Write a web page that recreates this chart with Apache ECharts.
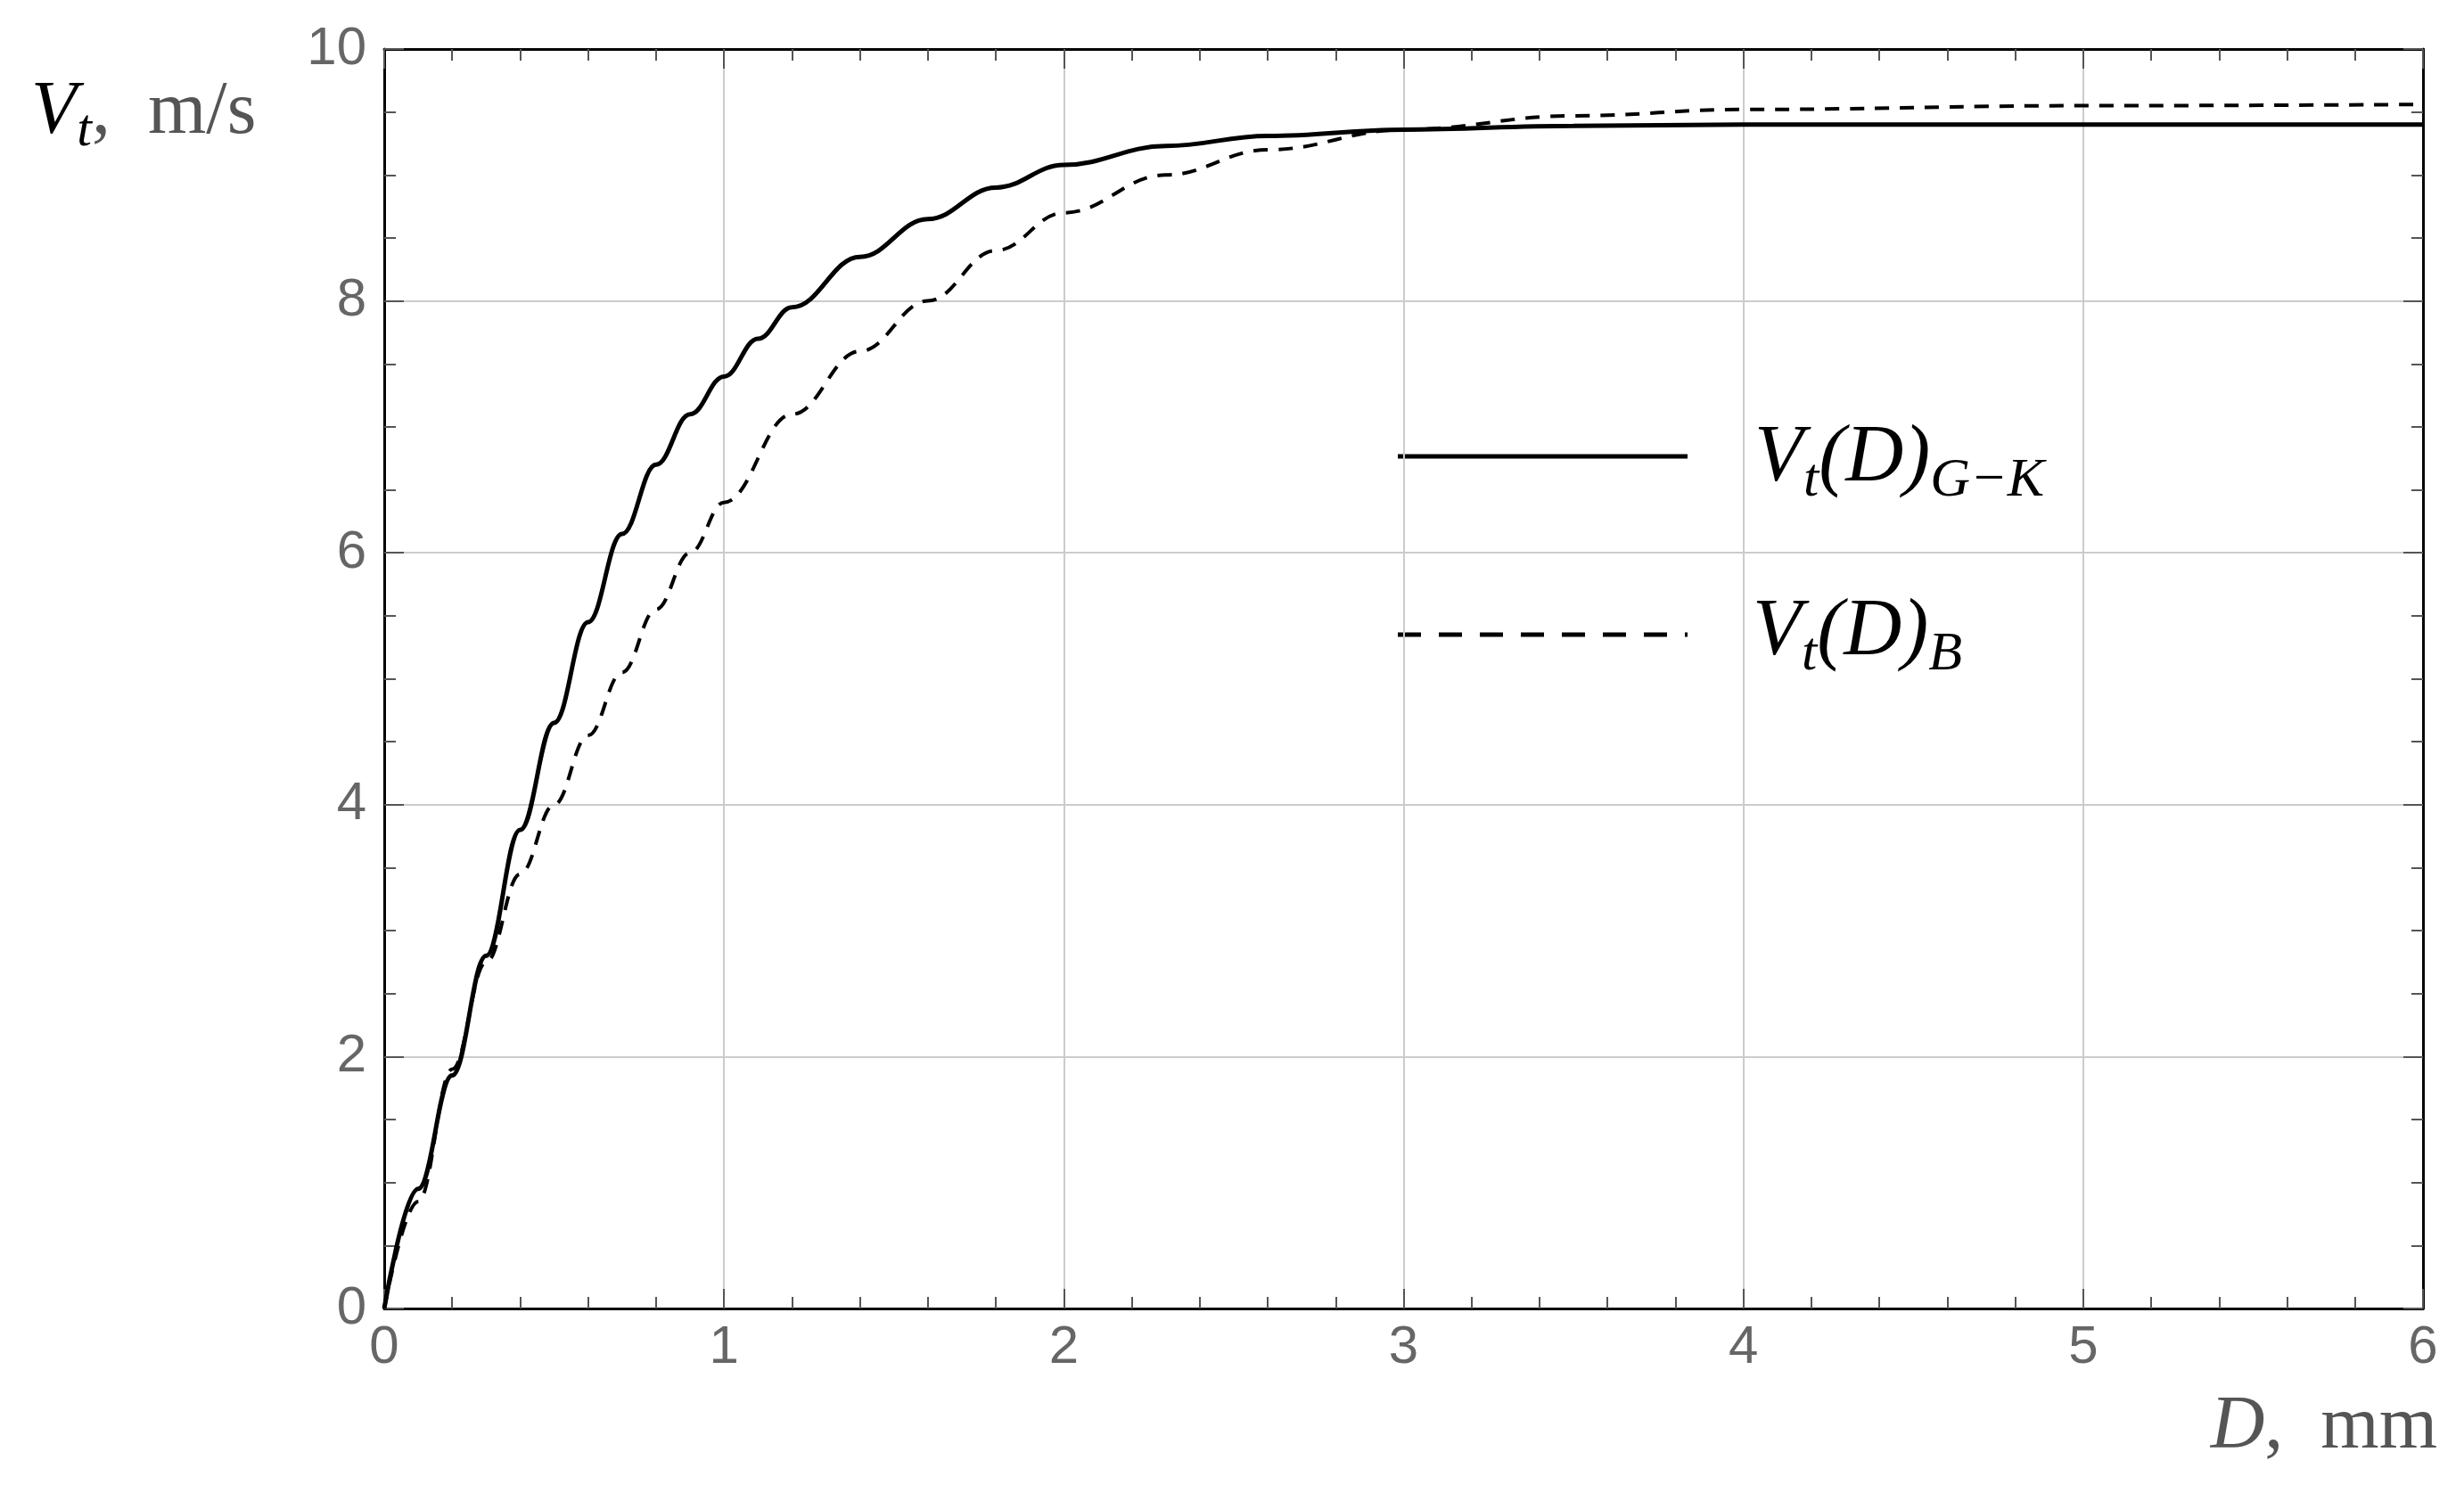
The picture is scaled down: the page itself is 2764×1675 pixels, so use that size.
<!DOCTYPE html>
<html><head><meta charset="utf-8">
<script src="https://cdn.jsdelivr.net/npm/echarts@6/dist/echarts.min.js"></script>
<style>html,body{margin:0;padding:0;background:#fff}#c{width:2764px;height:1675px}</style>
</head><body><div id="c"></div>
<script>
const dGK = [0,0.1,0.2,0.3,0.4,0.5,0.6,0.7,0.8,0.9,1.0,1.1,1.2,1.4,1.6,1.8,2.0,2.3,2.6,3.0,3.5,4.0,5.0,6.0];
const vGK = [0,0.95,1.85,2.8,3.8,4.65,5.45,6.15,6.7,7.1,7.4,7.7,7.95,8.35,8.65,8.9,9.08,9.23,9.31,9.36,9.39,9.4,9.4,9.4];
const dB = [0,0.1,0.2,0.3,0.4,0.5,0.6,0.7,0.8,0.9,1.0,1.2,1.4,1.6,1.8,2.0,2.3,2.6,3.0,3.5,4.0,5.0,6.0];
const vB = [0,0.85,1.9,2.75,3.45,4.0,4.55,5.05,5.55,6.0,6.4,7.1,7.6,8.0,8.4,8.7,9.0,9.2,9.36,9.47,9.52,9.55,9.56];
const xTicks = [0,1,2,3,4,5,6];
const yTicks = [0,2,4,6,8,10];
const ch = echarts.init(document.getElementById('c'));
function ax(split){
  return {
    axisLine:{show:true,onZero:false,lineStyle:{color:'#000',width:3}},
    axisTick:{show:true,inside:true,length:22,lineStyle:{color:'#555',width:2}},
    minorTick:{show:true,inside:true,splitNumber:split,length:13,lineStyle:{color:'#555',width:2}}
  };
}
const fontS = '"Liberation Serif","DejaVu Serif",serif';
const lab = {color:'#666',fontSize:60,fontFamily:'Liberation Sans, Arial'};
ch.setOption({
  animation:false,
  grid:{left:431,right:46,top:55,bottom:207},
  xAxis:[
    Object.assign({type:'value',min:0,max:6,interval:1,position:'bottom',
      axisLabel:Object.assign({margin:14},lab),
      splitLine:{show:true,lineStyle:{color:'#ccc',width:2}}},ax(5)),
    Object.assign({type:'value',min:0,max:6,interval:1,position:'top',
      axisLabel:{show:false},splitLine:{show:false}},ax(5))
  ],
  yAxis:[
    Object.assign({type:'value',min:0,max:10,interval:2,position:'left',
      axisLabel:Object.assign({margin:20},lab),
      splitLine:{show:true,lineStyle:{color:'#ccc',width:2}}},ax(4)),
    Object.assign({type:'value',min:0,max:10,interval:2,position:'right',
      axisLabel:{show:false},splitLine:{show:false}},ax(4))
  ],
  series:[
    {type:'line',smooth:0.4,smoothMonotone:'x',symbol:'none',data:dGK.map((d,i)=>[d,vGK[i]]),lineStyle:{color:'#000',width:5}},
    {type:'line',smooth:0.4,smoothMonotone:'x',symbol:'none',data:dB.map((d,i)=>[d,vB[i]]),lineStyle:{color:'#000',width:4,type:[16,12]}}
  ],
  graphic:[
    {type:'text',left:35,top:85,style:{rich:{
      i:{fontFamily:fontS,fontStyle:'italic',fontSize:84,fill:'#000'},
      s:{fontFamily:fontS,fontStyle:'italic',fontSize:60,fill:'#000',padding:[40,0,0,0]},
      n:{fontFamily:fontS,fontSize:84,fill:'#555'}},
      text:'{i|V}{s|t}{n|,  m/s}'}},
    {type:'text',right:30,top:1560,style:{rich:{
      i:{fontFamily:fontS,fontStyle:'italic',fontSize:84,fill:'#555'},
      n:{fontFamily:fontS,fontSize:84,fill:'#555'}},
      text:'{i|D}{n|,  mm}'}},
    {type:'line',shape:{x1:1568,y1:512,x2:1893,y2:512},style:{stroke:'#000',lineWidth:5}},
    {type:'line',shape:{x1:1568,y1:712,x2:1893,y2:712},style:{stroke:'#000',lineWidth:5,lineDash:[26,20]}},
    {type:'text',left:1968,top:470,style:{rich:{
      i:{fontFamily:fontS,fontStyle:'italic',fontSize:90,fill:'#000'},
      s:{fontFamily:fontS,fontStyle:'italic',fontSize:62,fill:'#000',padding:[50,0,0,0]}},
      text:'{i|V}{s|t}{i|(D)}{s|G\u2212K}'}},
    {type:'text',left:1966,top:665,style:{rich:{
      i:{fontFamily:fontS,fontStyle:'italic',fontSize:90,fill:'#000'},
      s:{fontFamily:fontS,fontStyle:'italic',fontSize:62,fill:'#000',padding:[50,0,0,0]}},
      text:'{i|V}{s|t}{i|(D)}{s|B}'}}
  ]
});
</script></body></html>
